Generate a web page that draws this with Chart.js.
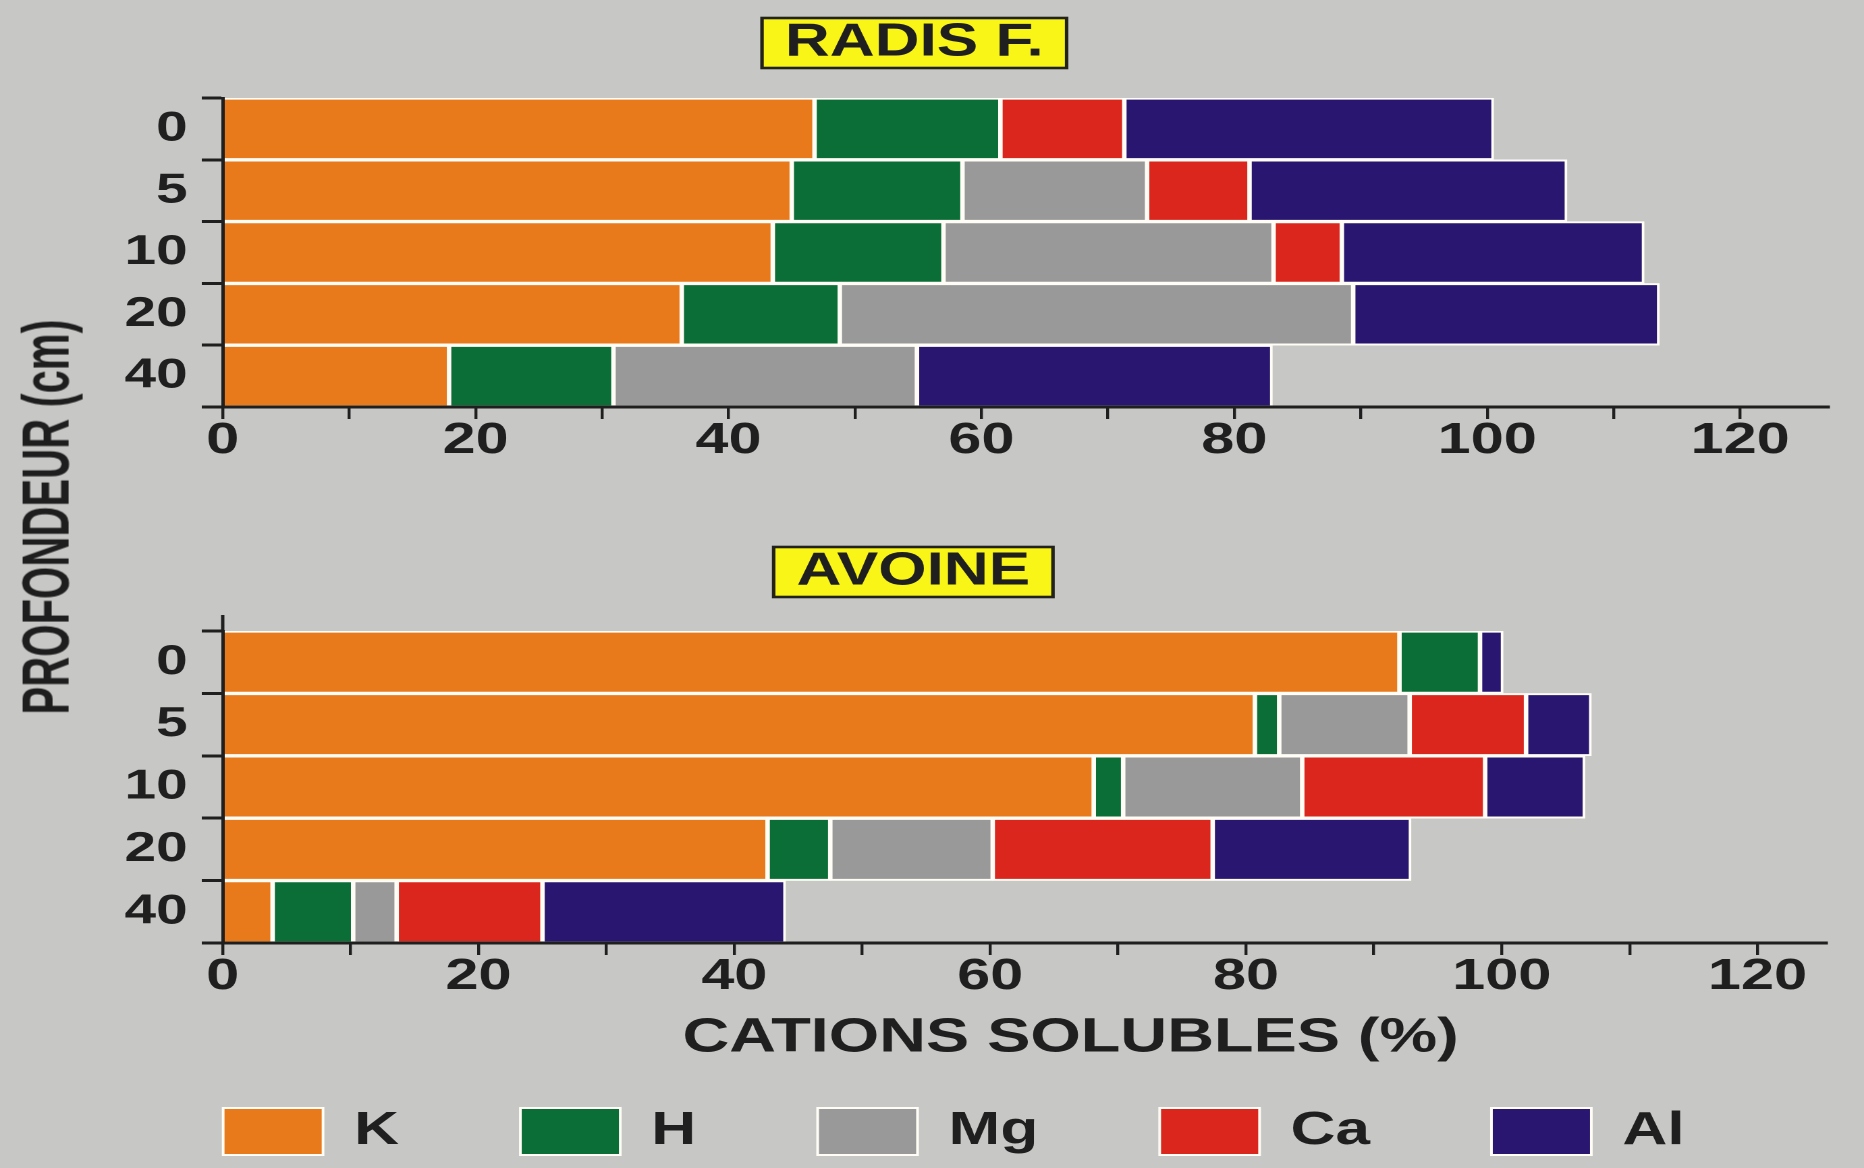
<!DOCTYPE html>
<html><head><meta charset="utf-8">
<script src="https://cdn.jsdelivr.net/npm/chart.js@4.4.1/dist/chart.umd.min.js"></script>
<style>
html,body{margin:0;padding:0;background:#c7c7c5;}
#wrap{position:relative;width:1864px;height:1168px;overflow:hidden;background:#c7c7c5;}
.st{position:absolute;left:0;width:1381px;transform:scaleX(1.34975);transform-origin:0 0;}
#ylab{position:absolute;left:46px;top:517px;transform:translate(-50%,-50%) rotate(-90deg) scaleY(1.6);font:bold 41.6px "Liberation Sans",Arial,sans-serif;color:#1e1e1e;white-space:nowrap;}
</style></head><body>
<div id="wrap">
<div class="st" style="top:0;height:470px"><canvas id="c1" width="1381" height="470"></canvas></div>
<div class="st" style="top:470px;height:698px"><canvas id="c2" width="1381" height="698"></canvas></div>
<div id="ylab">PROFONDEUR (cm)</div>
</div>
<script>
// ---- data ----
const depths = ['0', '5', '10', '20', '40'];
const cations = ['K', 'H', 'Mg', 'Ca', 'Al'];
const xTickStep = 10;

const radisTitle = 'RADIS F.';
const radisK  = [46.8, 45.0, 43.5, 36.3, 17.9];
const radisH  = [14.7, 13.5, 13.5, 12.5, 13.0];
const radisMg = [null, 14.6, 26.1, 40.6, 24.0];
const radisCa = [9.8, 8.1, 5.4, null, null];
const radisAl = [29.2, 25.1, 23.9, 24.2, 28.1];

const avoineTitle = 'AVOINE';
const avoineK  = [92.0, 80.7, 68.1, 42.6, 3.9];
const avoineH  = [6.3, 1.9, 2.3, 4.9, 6.3];
const avoineMg = [null, 10.2, 14.0, 12.7, 3.4];
const avoineCa = [null, 9.1, 14.3, 17.2, 11.4];
const avoineAl = [1.8, 5.1, 7.8, 15.5, 19.0];

const xTitle = 'CATIONS SOLUBLES (%)';

// ---- styles ----
const FONT = '"Liberation Sans", Arial, Helvetica, sans-serif';
const DARK = '#1f1f1f';
const colors = ['#E87A1C', '#0A6E36', '#999999', '#DA261D', '#291670'];
const BORDER = '#FFFDF6';

const titleBox = {
  id: 'titleBox',
  beforeDraw(chart) {
    const tb = chart.titleBlock;
    if (!tb) return;
    const o = chart.options.plugins.title;
    const font = Chart.helpers.toFont(o.font);
    const pad = Chart.helpers.toPadding(o.padding);
    const ctx = chart.ctx;
    ctx.save();
    ctx.font = font.string;
    const w = ctx.measureText(o.text).width;
    const cx = (tb.left + tb.right) / 2;
    const cy = tb.top + pad.top + font.lineHeight / 2;
    const bw = w + 34, bh = 50;
    ctx.fillStyle = '#F9F516';
    ctx.fillRect(cx - bw / 2, cy - bh / 2, bw, bh);
    ctx.lineWidth = 2.6;
    ctx.strokeStyle = '#22221a';
    ctx.strokeRect(cx - bw / 2, cy - bh / 2, bw, bh);
    ctx.restore();
  }
};

// small horizontal offsets for the legend row and the x-axis title
const nudge = {
  id: 'nudge',
  afterLayout(chart, args, opts) {
    if (opts.legendDx && chart.legend) {
      chart.legend.left += opts.legendDx;
      chart.legend.right += opts.legendDx;
    }
    const s = chart.scales.x;
    if (opts.titleDx && s && !s._nudged) {
      const orig = s.drawTitle;
      s.drawTitle = function () {
        const c = this.ctx;
        c.save();
        c.translate(opts.titleDx, 0);
        orig.call(this);
        c.restore();
      };
      s._nudged = true;
    }
  },
  afterDraw(chart, args, opts) {
    // the y-axis line of the lower panel runs a little above its first category
    if (!opts.axisExtend) return;
    const s = chart.scales.y;
    const ctx = chart.ctx;
    ctx.save();
    ctx.strokeStyle = DARK;
    ctx.lineWidth = 2.5;
    ctx.beginPath();
    ctx.moveTo(s.right, chart.chartArea.top - opts.axisExtend);
    ctx.lineTo(s.right, chart.chartArea.top);
    ctx.stroke();
    ctx.restore();
  }
};

function build(id, title, series, cfg) {
  const datasets = cations.map((c, i) => ({
    label: c,
    data: series[i],
    backgroundColor: colors[i],
    borderColor: BORDER,
    borderWidth: 2,
    borderSkipped: i === 0 ? 'start' : false,
    categoryPercentage: 1,
    barPercentage: 1
  }));
  return new Chart(document.getElementById(id), {
    type: 'bar',
    data: { labels: depths, datasets },
    options: {
      indexAxis: 'y',
      responsive: false,
      animation: false,
      devicePixelRatio: 2,
      layout: { padding: { left: 0, right: cfg.padRight, top: 0, bottom: cfg.padBottom } },
      plugins: {
        title: {
          display: true, text: title, color: DARK,
          font: { family: FONT, size: 46, weight: 'bold', lineHeight: 1.2 },
          padding: { top: cfg.titleTop, bottom: cfg.titleBottom }
        },
        legend: {
          display: cfg.legend, position: 'bottom',
          labels: {
            boxWidth: 74, boxHeight: 47, padding: 90, color: DARK,
            font: { family: FONT, size: 46, weight: 'bold' }
          }
        },
        tooltip: { enabled: false },
        nudge: { legendDx: cfg.legendDx || 0, titleDx: cfg.titleDx || 0, axisExtend: cfg.axisExtend || 0 }
      },
      scales: {
        x: {
          type: 'linear', stacked: true, min: 0, max: cfg.xmax,
          grid: { display: true, drawOnChartArea: false, drawTicks: true, tickLength: 12, color: DARK, lineWidth: 2.2 },
          border: { display: true, color: DARK, width: 3, z: 1 },
          ticks: {
            stepSize: xTickStep, includeBounds: false, autoSkip: false, maxRotation: 0, minRotation: 0,
            padding: 0, color: DARK,
            font: { family: FONT, size: 44, weight: 'bold', lineHeight: 1 },
            callback: v => (v % 20 === 0 ? String(v) : '')
          },
          title: cfg.legend ? {
            display: true, text: xTitle, color: DARK,
            font: { family: FONT, size: 48, weight: 'bold', lineHeight: 1 },
            padding: { top: 0, bottom: -44.5 }
          } : { display: false },
          afterFit: s => { s.height = cfg.xHeight; }
        },
        y: {
          type: 'category', stacked: true, offset: true,
          grid: { display: true, offset: true, drawOnChartArea: false, tickLength: 15.5, color: DARK, lineWidth: 3 },
          border: { display: true, color: DARK, width: 2.5, z: 1 },
          ticks: { padding: 10.5, color: DARK, font: { family: FONT, size: 42, weight: 'bold' } },
          afterFit: s => { s.width = 165; }
        }
      }
    },
    plugins: [titleBox, nudge]
  });
}

build('c1', radisTitle, [radisK, radisH, radisMg, radisCa, radisAl], {
  xmax: 127, padRight: 26.2, padBottom: 0, titleTop: 15.4, titleBottom: 27.4, legend: false, xHeight: 63
});
build('c2', avoineTitle, [avoineK, avoineH, avoineMg, avoineCa, avoineAl], {
  xmax: 125.4, padRight: 27.7, padBottom: 3, titleTop: 74.4, titleBottom: 31.4, legend: true, xHeight: 75,
  legendDx: 30, titleDx: 34, axisExtend: 16
});
</script>
</body></html>
